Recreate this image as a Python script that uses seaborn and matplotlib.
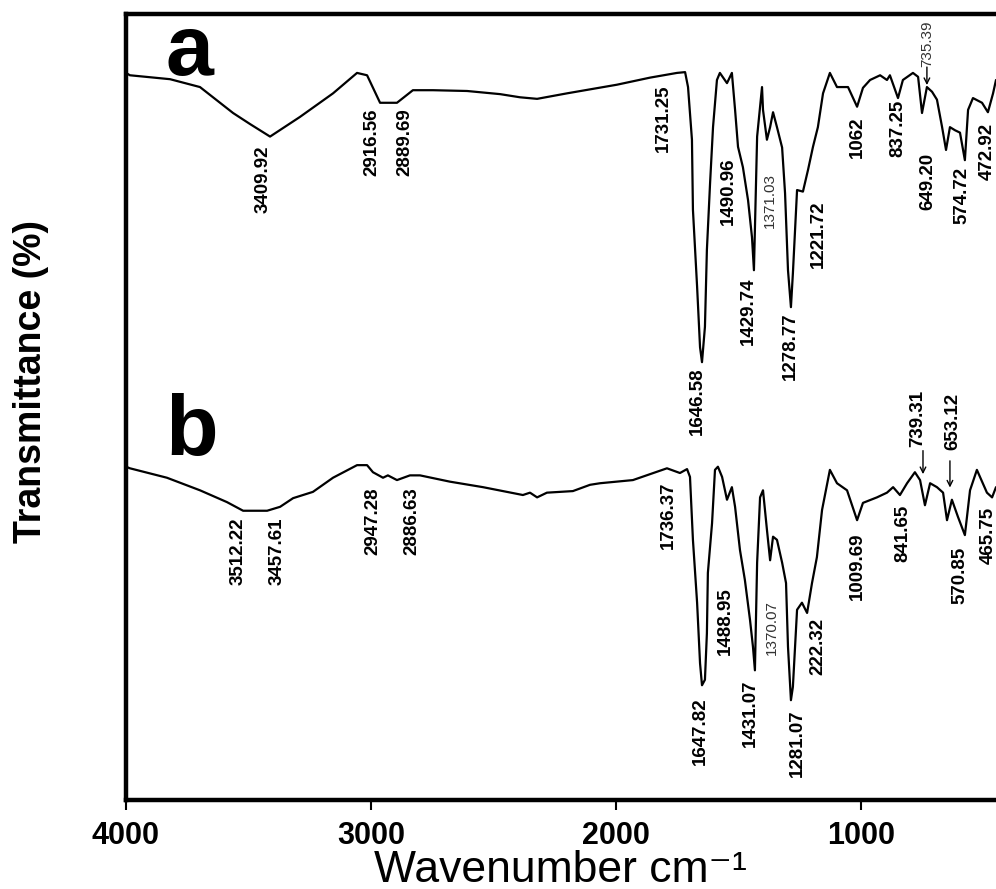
import pandas as pd
import seaborn as sns
import matplotlib.pyplot as plt

# FTIR spectra, wavenumber (cm-1) vs transmittance (arbitrary %)
wn_a = [4000, 3984, 3820, 3698, 3563, 3494, 3412, 3290, 3155, 3057, 3016, 2963, 2894, 2829, 2747,
        2608, 2473, 2392, 2322, 2200, 1996, 1861, 1751, 1718, 1706, 1690, 1686, 1669, 1657, 1649,
        1637, 1629, 1616, 1604, 1588, 1576, 1547, 1527, 1514, 1502, 1482, 1461, 1445, 1437, 1424,
        1404, 1400, 1384, 1371, 1359, 1343, 1322, 1310, 1298, 1286, 1278, 1261, 1237, 1216, 1196,
        1176, 1155, 1127, 1098, 1053, 1016, 992, 963, 922, 894, 882, 849, 829, 788, 767,
        751, 731, 710, 690, 669, 653, 637, 616, 596, 576, 563, 543, 506, 482, 461, 449]
tr_a = [92.5, 92.2, 91.7, 90.7, 87.4, 86.0, 84.4, 86.9, 89.9, 92.5, 92.2, 88.7, 88.7, 90.3, 90.3,
        90.2, 89.8, 89.4, 89.2, 89.9, 91.0, 91.9, 92.5, 92.6, 90.7, 84.0, 75.1, 65.3, 57.6, 55.7,
        60.2, 70.0, 78.5, 85.6, 91.6, 92.5, 91.2, 92.5, 87.8, 83.1, 80.5, 76.3, 71.6, 67.4, 84.4,
        90.7, 87.8, 84.0, 85.6, 87.5, 85.6, 83.0, 77.2, 67.4, 62.7, 67.0, 77.6, 77.4, 80.2, 83.1,
        85.6, 89.9, 92.5, 90.7, 90.7, 88.2, 90.6, 91.6, 92.2, 91.6, 92.2, 89.3, 91.6, 92.5, 92.0,
        87.4, 90.7, 90.1, 89.1, 85.6, 82.7, 85.6, 85.2, 84.9, 81.4, 87.8, 89.3, 88.7, 87.5, 89.9, 91.6]

wn_b = [4000, 3984, 3833, 3698, 3588, 3522, 3424, 3371, 3318, 3237, 3155, 3057, 3016, 2992, 2951,
        2931, 2894, 2841, 2800, 2678, 2543, 2380, 2351, 2322, 2282, 2176, 2106, 2065, 1931, 1792,
        1739, 1710, 1698, 1686, 1669, 1657, 1649, 1637, 1629, 1625, 1608, 1596, 1584, 1567, 1547,
        1527, 1514, 1494, 1474, 1453, 1441, 1433, 1424, 1412, 1400, 1384, 1371, 1359, 1343, 1322,
        1306, 1298, 1286, 1278, 1261, 1241, 1220, 1200, 1180, 1159, 1127, 1098, 1057, 1016, 992,
        935, 894, 869, 841, 812, 780, 759, 739, 718, 690, 665, 649, 629, 604, 576,
        555, 527, 486, 465, 449]
tr_b = [42.4, 42.2, 41.0, 39.4, 37.9, 36.8, 36.8, 37.3, 38.4, 39.2, 41.0, 42.6, 42.6, 41.7, 41.0,
        41.3, 40.7, 41.3, 41.3, 40.5, 39.8, 38.8, 39.1, 38.5, 39.1, 39.3, 40.1, 40.3, 40.7, 42.2,
        41.6, 42.1, 41.1, 33.1, 25.1, 17.4, 14.6, 15.3, 21.2, 28.9, 35.2, 42.0, 42.4, 41.1, 38.2,
        39.8, 37.3, 31.8, 28.0, 22.9, 19.5, 16.5, 30.2, 38.5, 39.4, 34.4, 30.5, 33.5, 33.1, 30.2,
        27.6, 19.5, 12.7, 14.4, 24.2, 25.1, 23.8, 27.6, 30.9, 36.9, 42.0, 40.3, 39.4, 35.6, 37.8,
        38.5, 39.1, 39.8, 38.8, 40.3, 41.7, 40.7, 37.5, 40.3, 39.8, 39.1, 35.6, 38.2, 36.0, 33.7,
        39.4, 42.0, 39.1, 38.5, 39.8]

# peak labels: text, wavenumber position, top of label (transmittance), thin style?
peaks_a = [("3409.92", 3441, 83.3, False), ("2916.56", 2996, 88.0, False), ("2889.69", 2861, 88.0, False),
           ("1731.25", 1808, 91.0, False), ("1490.96", 1543, 81.8, False), ("1371.03", 1371, 79.8, True),
           ("1429.74", 1461, 66.5, False), ("1646.58", 1669, 55.1, False), ("1278.77", 1290, 62.0, False),
           ("1221.72", 1176, 76.3, False), ("1062", 1016, 86.9, False), ("837.25", 849, 89.1, False),
           ("649.20", 727, 82.3, False), ("574.72", 588, 80.5, False), ("472.92", 486, 86.1, False),
           ("735.39", 731, 99.2, True)]
peaks_b = [("3512.22", 3543, 35.9, False), ("3457.61", 3384, 36.0, False), ("2947.28", 2992, 39.8, False),
           ("2886.63", 2833, 39.8, False), ("1736.37", 1788, 40.5, False), ("1488.95", 1555, 27.1, False),
           ("1370.07", 1363, 25.4, True), ("1431.07", 1453, 15.3, False), ("1647.82", 1657, 13.1, False),
           ("1281.07", 1261, 11.5, False), ("222.32", 1176, 23.2, False), ("1009.69", 1016, 34.0, False),
           ("841.65", 829, 37.5, False), ("570.85", 596, 32.2, False), ("465.75", 482, 37.3, False),
           ("739.31", 767, 52.2, False), ("653.12", 625, 51.8, False)]

# arrows: wavenumber, start T, end T
arrows = [(731, 93.6, 90.6), (747, 44.8, 41.1), (637, 43.5, 39.4)]

xticks = [4000, 3000, 2000, 1000]

sns.set_style("white")
plt.rcParams["font.family"] = ["Liberation Sans", "DejaVu Sans"]
for key in ["text.color", "axes.labelcolor", "xtick.color", "ytick.color", "axes.edgecolor"]:
    plt.rcParams[key] = "black"

fig = plt.figure(figsize=(9.96, 8.89), dpi=100)
ax = fig.add_axes([0.1265, 0.1001, 0.8735, 0.8842])

df_a = pd.DataFrame({"wn": wn_a, "T": tr_a})
df_b = pd.DataFrame({"wn": wn_b, "T": tr_b})
sns.lineplot(data=df_a, x="wn", y="T", ax=ax, color="black", lw=1.6, sort=False, estimator=None)
sns.lineplot(data=df_b, x="wn", y="T", ax=ax, color="black", lw=1.6, sort=False, estimator=None)

ax.set_xlim(4000, 449)
ax.set_ylim(0, 100)
ax.set_xticks(xticks)
ax.set_xticklabels([str(t) for t in xticks], fontsize=22, fontweight="bold")
ax.set_yticks([])
ax.set_xlabel("")
ax.set_ylabel("")
ax.tick_params(axis="x", direction="out", length=7, width=1.5, pad=8, bottom=True, colors="black")

for side in ["left", "top", "bottom"]:
    ax.spines[side].set_linewidth(3.2)
    ax.spines[side].set_color("black")
ax.spines["right"].set_visible(False)

narrow = ["Liberation Sans Narrow", "Liberation Sans", "DejaVu Sans"]
for peaks in [peaks_a, peaks_b]:
    for txt, x, y, thin in peaks:
        if thin:
            ax.text(x, y, txt, rotation=90, ha="center", va="top", fontsize=11,
                    family=narrow, color="#333333")
        else:
            ax.text(x, y, txt, rotation=90, ha="center", va="top", fontsize=13.5,
                    family=narrow, fontweight="bold", color="black")

for x, y0, y1 in arrows:
    ax.annotate("", xy=(x, y1), xytext=(x, y0),
                arrowprops=dict(arrowstyle="->", lw=1.0, color="black"))

ax.text(0.045, 0.922, "a", transform=ax.transAxes, fontsize=62, fontweight="bold",
        va="baseline", color="black")
ax.text(0.045, 0.439, "b", transform=ax.transAxes, fontsize=62, fontweight="bold",
        va="baseline", color="black")

fig.text(0.031, 0.571, "Transmittance (%)", rotation=90, ha="center", va="center",
         fontsize=27, fontweight="bold", family=narrow, color="black")
fig.text(0.563, 0.008, "Wavenumber cm\u207b\u00b9", ha="center", va="baseline", fontsize=32,
         color="black")

fig.savefig("out.png", dpi=100)
